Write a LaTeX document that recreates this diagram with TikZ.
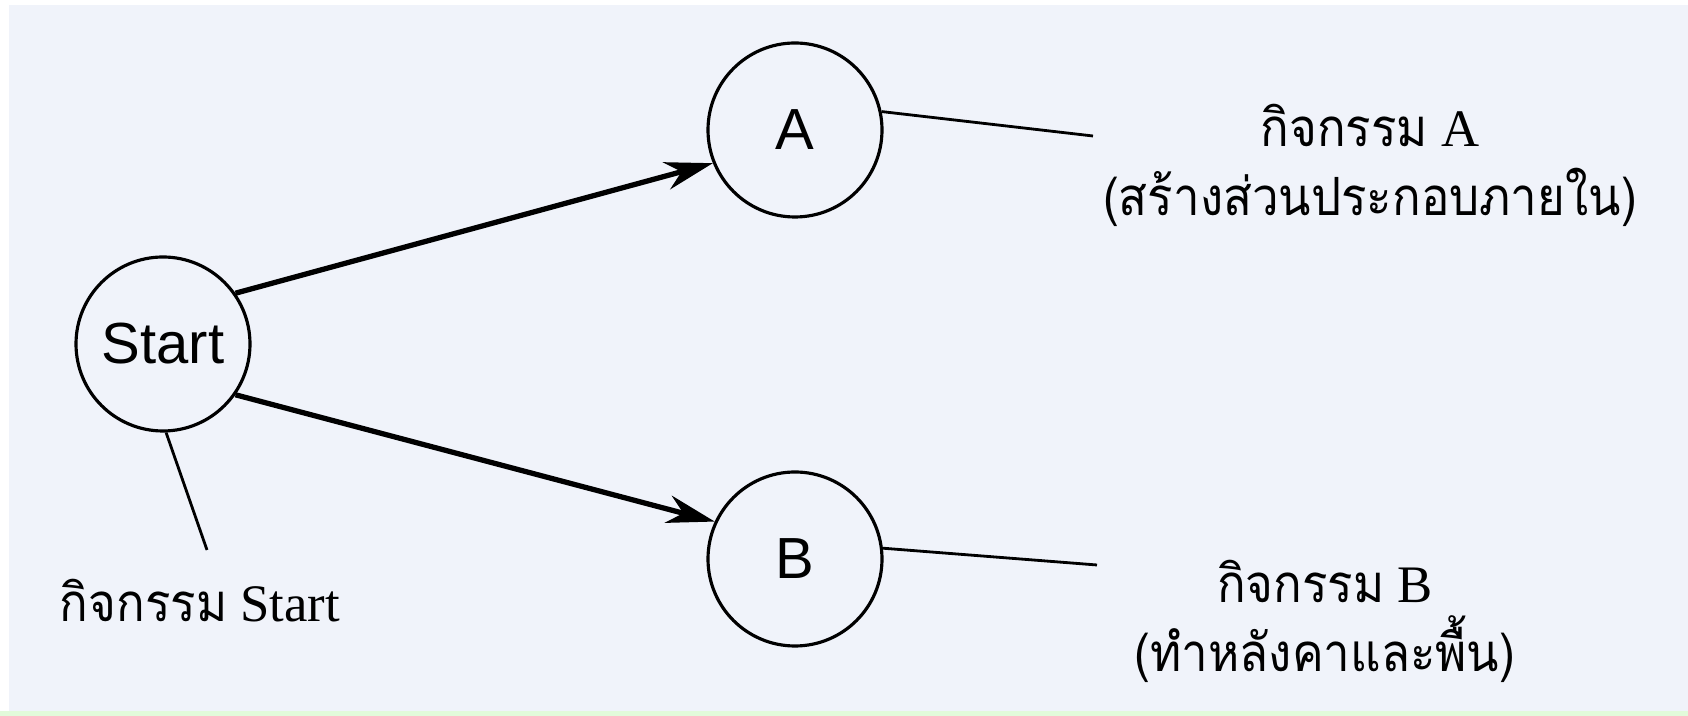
\documentclass[tikz,border=0pt]{standalone}
\usepackage{fontspec}
\setmainfont{Liberation Serif}
\setsansfont{Liberation Sans}
\newfontfamily\thaifont[Script=Thai,FakeStretch=0.9]{Loma}
\usetikzlibrary{arrows.meta,positioning}
\definecolor{paper}{RGB}{240,243,250}
\definecolor{strip}{RGB}{226,250,218}

\begin{document}
\begin{tikzpicture}[font=\fontsize{15}{18}\selectfont,
		event/.style={draw,circle,minimum size=1.74cm,inner sep=0pt,line width=0.9pt,font=\sffamily\fontsize{16.5}{20}\selectfont},
		flow/.style={line width=1.5pt,-{Stealth[length=4.8mm,width=2.8mm]}},
		tag/.style={line width=0.8pt},
		caption/.style={anchor=base,inner sep=0pt}]
		\useasboundingbox (0,0) rectangle (16.88,7.16);
		\fill[white] (0,0) rectangle (16.88,7.16);
		\fill[paper] (0.09,0.05) rectangle (16.88,7.11);
		\fill[strip] (0,0) rectangle (16.88,0.05);
		% events
		\node[event] (start) at (1.63,3.72) {Start};
		\node[event] (A) at (7.95,5.86) {A};
		\node[event] (B) at (7.95,1.57) {B};
		\draw[flow] (start.35) -- (A.202);
		\draw[flow] (start.-35) -- (B.155);
		% activity labels
		\coordinate (endA) at (10.93,5.80);
		\coordinate (endB) at (10.97,1.51);
		\coordinate (endS) at (2.07,1.66);
		\draw[tag] (A.12) -- (endA);
		\draw[tag] (B.7) -- (endB);
		\draw[tag] (start.-88) -- (endS);
		\node[caption] (actA) at (13.70,5.69) {{\thaifont กิจกรรม} A};
		\node[caption] (actAtxt) at (13.70,5.00) {\thaifont (สร้างส่วนประกอบภายใน)};
		\node[caption] (actB) at (13.25,1.13) {{\thaifont กิจกรรม} B};
		\node[caption] (actBtxt) at (13.25,0.44) {\thaifont (ทำหลังคาและพื้น)};
		\node[caption] (actS) at (2.00,0.94) {{\thaifont กิจกรรม} Start};
	\end{tikzpicture}
\end{document}
